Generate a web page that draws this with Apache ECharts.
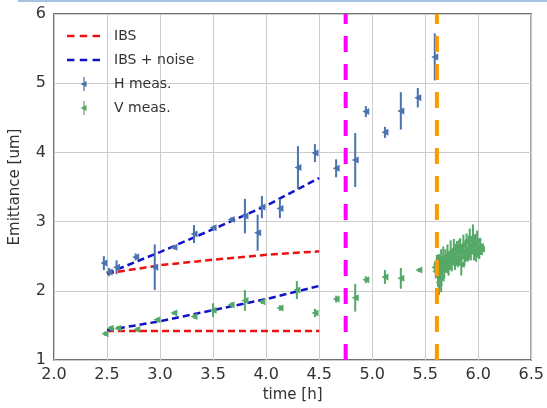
<!DOCTYPE html>
<html><head><meta charset="utf-8">
<script src="https://cdn.jsdelivr.net/npm/echarts@6/dist/echarts.min.js"></script>
<style>html,body{margin:0;padding:0;background:#fff}#c{width:547px;height:408px}</style>
</head><body><div id="c"></div>
<script>
// Model curves
const modelTime = [2.5, 3.0, 3.5, 4.0, 4.5];
const ibsH = [2.25, 2.37, 2.45, 2.52, 2.57];
const noiseH = [2.25, 2.56, 2.89, 3.23, 3.63];
const ibsV = [1.42, 1.42, 1.42, 1.42, 1.42];
const noiseV = [1.43, 1.56, 1.72, 1.88, 2.07];

// H measurements
const hTime = [2.47, 2.52, 2.59, 2.77, 2.95, 3.13, 3.32, 3.50, 3.67, 3.80, 3.92, 3.96, 4.13, 4.30, 4.46, 4.66, 4.84, 4.94, 5.12, 5.27, 5.43, 5.59];
const hVal  = [2.40, 2.27, 2.34, 2.49, 2.34, 2.63, 2.82, 2.91, 3.03, 3.08, 2.84, 3.21, 3.19, 3.78, 3.99, 3.77, 3.89, 4.59, 4.29, 4.60, 4.79, 5.38];
const hErr  = [0.10, 0.06, 0.10, 0.05, 0.33, 0.03, 0.13, 0.03, 0.03, 0.25, 0.26, 0.16, 0.14, 0.31, 0.13, 0.13, 0.39, 0.08, 0.08, 0.27, 0.14, 0.34];

// V measurements
const vTime = [2.48, 2.53, 2.60, 2.78, 2.97, 3.13, 3.32, 3.50, 3.67, 3.80, 3.96, 4.13, 4.29, 4.46, 4.66, 4.84, 4.94, 5.12, 5.27, 5.44,
  5.59, 5.60, 5.61, 5.62, 5.62, 5.63, 5.63, 5.64, 5.65, 5.65, 5.66, 5.67, 5.68, 5.69, 5.70, 5.71, 5.72, 5.73, 5.74, 5.75, 5.76, 5.77, 5.78, 5.79,
  5.80, 5.81, 5.82, 5.83, 5.84, 5.85, 5.86, 5.87, 5.88, 5.89, 5.90, 5.91, 5.92, 5.93, 5.94, 5.95, 5.96, 5.97, 5.98, 5.99, 6.00, 6.01, 6.02, 6.03];
const vVal = [1.38, 1.46, 1.46, 1.44, 1.58, 1.68, 1.63, 1.72, 1.80, 1.86, 1.84, 1.75, 2.01, 1.68, 1.88, 1.90, 2.16, 2.20, 2.18, 2.30,
  2.34, 2.28, 2.38, 2.22, 2.42, 2.35, 2.12, 2.26, 2.45, 2.18, 2.38, 2.48, 2.30, 2.44, 2.36, 2.52, 2.34, 2.48, 2.56, 2.40, 2.50, 2.60, 2.42, 2.52,
  2.62, 2.46, 2.56, 2.64, 2.38, 2.55, 2.66, 2.48, 2.58, 2.70, 2.52, 2.62, 2.74, 2.56, 2.66, 2.78, 2.58, 2.68, 2.52, 2.72, 2.60, 2.56, 2.64, 2.60];
const vErr = [0.03, 0.03, 0.03, 0.03, 0.03, 0.03, 0.03, 0.10, 0.03, 0.15, 0.03, 0.04, 0.13, 0.06, 0.05, 0.20, 0.05, 0.10, 0.15, 0.03,
  0.08, 0.10, 0.14, 0.16, 0.10, 0.18, 0.18, 0.12, 0.15, 0.20, 0.10, 0.16, 0.12, 0.16, 0.10, 0.15, 0.12, 0.10, 0.17, 0.12, 0.10, 0.15, 0.12, 0.16,
  0.10, 0.12, 0.18, 0.12, 0.16, 0.10, 0.15, 0.12, 0.16, 0.13, 0.10, 0.18, 0.16, 0.12, 0.10, 0.18, 0.14, 0.12, 0.10, 0.15, 0.12, 0.10, 0.12, 0.08];

// vertical markers
const magentaTime = 4.75;
const orangeTime = 5.61;

const xTicks = ['2.0','2.5','3.0','3.5','4.0','4.5','5.0','5.5','6.0','6.5'];

const C_H = '#4c72b0', C_V = '#55a868', C_RED = '#ee1111', C_BLUE = '#1111cc';
const FONT = 'DejaVu Sans';

function zip2(a, b) { return a.map((x, i) => [x, b[i]]); }
function zip3(a, b, c) { return a.map((x, i) => [x, b[i], c[i]]); }

function errRender(color) {
  return function (params, api) {
    const x = api.value(0), y = api.value(1), e = api.value(2);
    const p1 = api.coord([x, y - e]);
    const p2 = api.coord([x, y + e]);
    return { type: 'line', shape: { x1: p1[0], y1: p1[1], x2: p2[0], y2: p2[1] },
      style: { stroke: color, lineWidth: 2 } };
  };
}

const iconMeas = 'path://M3.3,0 L4.7,0 L4.7,16 L3.3,16 Z M0,8 L7,4.5 L7,11.5 Z';
const iconDash = 'path://M0,0 L7,0 L7,2.5 L0,2.5 Z M12,0 L19,0 L19,2.5 L12,2.5 Z M24,0 L31,0 L31,2.5 L24,2.5 Z';

const chart = echarts.init(document.getElementById('c'), null, { renderer: 'canvas' });
const dashLine = (color) => ({ color: color, width: 2.5, type: [7, 4] });

chart.setOption({
  animation: false,
  backgroundColor: '#ffffff',
  textStyle: { fontFamily: FONT },
  grid: { left: 50, right: 13, top: 14, bottom: 44, show: true, borderColor: '#444', borderWidth: 1.5, backgroundColor: 'transparent' },
  xAxis: {
    type: 'value', min: 2, max: 6.5, interval: 0.5,
    name: 'time [h]', nameLocation: 'middle', nameGap: 28,
    nameTextStyle: { fontSize: 15, color: '#333', fontFamily: FONT },
    axisLine: { show: false }, axisTick: { show: false },
    axisLabel: { fontSize: 16, color: '#333', margin: 7, fontFamily: FONT,
      formatter: (v) => xTicks[Math.round((v - 2) / 0.5)] },
    splitLine: { show: true, lineStyle: { color: '#cccccc', width: 1 } }
  },
  yAxis: {
    type: 'value', min: 1, max: 6, interval: 1,
    name: 'Emittance [um]', nameLocation: 'middle', nameGap: 31, nameRotate: 90,
    nameTextStyle: { fontSize: 15, color: '#333', fontFamily: FONT },
    axisLine: { show: false }, axisTick: { show: false },
    axisLabel: { fontSize: 16, color: '#333', margin: 8, fontFamily: FONT },
    splitLine: { show: true, lineStyle: { color: '#cccccc', width: 1 } }
  },
  legend: {
    orient: 'vertical', left: 62, top: 24, itemWidth: 33, itemHeight: 14, itemGap: 10,
    textStyle: { fontSize: 14, color: '#333', fontFamily: FONT, padding: [0, 0, 0, 9] },
    data: [
      { name: 'IBS', icon: iconDash },
      { name: 'IBS + noise', icon: iconDash },
      { name: 'H meas.', icon: iconMeas },
      { name: 'V meas.', icon: iconMeas }
    ]
  },
  graphic: [{
    type: 'line', shape: { x1: 18, y1: 1, x2: 547, y2: 1 },
    style: { stroke: '#a4c2e2', lineWidth: 2 }, silent: true
  }],
  series: [
    { type: 'line', name: 'IBS', data: zip2(modelTime, ibsH), symbol: 'none', lineStyle: dashLine(C_RED), itemStyle: { color: C_RED }, z: 3 },
    { type: 'line', name: 'IBS', data: zip2(modelTime, ibsV), symbol: 'none', lineStyle: dashLine(C_RED), itemStyle: { color: C_RED }, z: 3 },
    { type: 'line', name: 'IBS + noise', data: zip2(modelTime, noiseH), symbol: 'none', lineStyle: dashLine(C_BLUE), itemStyle: { color: C_BLUE }, z: 4 },
    { type: 'line', name: 'IBS + noise', data: zip2(modelTime, noiseV), symbol: 'none', lineStyle: dashLine(C_BLUE), itemStyle: { color: C_BLUE }, z: 4 },
    { type: 'custom', name: 'Herr', renderItem: errRender(C_H), data: zip3(hTime, hVal, hErr), z: 5, encode: { x: 0, y: 1 } },
    { type: 'custom', name: 'Verr', renderItem: errRender(C_V), data: zip3(vTime, vVal, vErr), z: 5, encode: { x: 0, y: 1 } },
    { type: 'scatter', name: 'H meas.', data: zip2(hTime, hVal), symbol: 'triangle', symbolRotate: 90, symbolSize: 7, itemStyle: { color: C_H, opacity: 1 }, z: 6 },
    { type: 'scatter', name: 'V meas.', data: zip2(vTime, vVal), symbol: 'triangle', symbolRotate: 90, symbolSize: 7, itemStyle: { color: C_V, opacity: 1 }, z: 6 },
    { type: 'line', name: 'magenta', data: [[magentaTime, 1], [magentaTime, 6]], symbol: 'none',
      lineStyle: { color: '#ff00ff', width: 4, type: [16, 12] }, z: 8 },
    { type: 'line', name: 'orange', data: [[orangeTime, 1], [orangeTime, 6]], symbol: 'none',
      lineStyle: { color: '#ff9900', width: 4, type: [16, 12] }, z: 8 }
  ]
});
</script>
</body></html>
